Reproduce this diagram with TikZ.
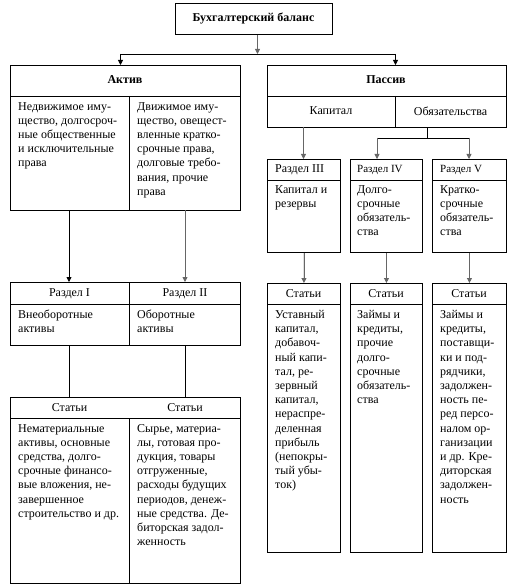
\documentclass[tikz,border=0pt]{standalone}
\usepackage{fontspec}
\setmainfont{Liberation Serif}
\usetikzlibrary{arrows.meta}
\begin{document}
\begin{tikzpicture}[x=1pt,y=-1pt,
 box/.style={draw, line width=0.9pt, inner sep=0pt, anchor=north west},
 txt/.style={anchor=north west, inner sep=0pt, align=left, font=\fontsize{12}{14.2}\selectfont},
 hdr/.style={anchor=center, inner sep=0pt, font=\fontsize{12}{14.2}\selectfont},
 shdr/.style={anchor=west, inner sep=0pt, font=\fontsize{11}{14}\selectfont},
 arr/.style={line width=0.8pt, -{Triangle[length=5pt,width=5pt]}},
 garr/.style={arr, draw=black!60, fill=black},
 ln/.style={line width=0.8pt}]
\path[use as bounding box] (0,0) rectangle (514,588);
% boxes
\node[box, minimum width=157pt, minimum height=31pt] (top) at (175,3) {};
\node[box, minimum width=230pt, minimum height=145pt] (aktiv) at (10,65) {};
\node[box, minimum width=239pt, minimum height=62pt] (passiv) at (267,65) {};
\node[box, minimum width=73pt, minimum height=93pt] (r3) at (267,159) {};
\node[box, minimum width=72pt, minimum height=93pt] (r4) at (350,159) {};
\node[box, minimum width=74pt, minimum height=93pt] (r5) at (432,159) {};
\node[box, minimum width=73pt, minimum height=269pt] (s3) at (267,283) {};
\node[box, minimum width=72pt, minimum height=269pt] (s4) at (350,283) {};
\node[box, minimum width=74pt, minimum height=269pt] (s5) at (432,283) {};
\node[box, minimum width=230pt, minimum height=63pt] (r12) at (10,282) {};
\node[box, minimum width=230pt, minimum height=186pt] (s12) at (10,397) {};
% inner lines
\draw[ln] (10,96) -- (240,96);
\draw[ln] (129,96) -- (129,210);
\draw[ln] (267,96) -- (506,96);
\draw[ln] (395,96) -- (395,127);
\draw[ln] (267,180) -- (340,180);
\draw[ln] (350,180) -- (422,180);
\draw[ln] (432,180) -- (506,180);
\draw[ln] (267,304) -- (340,304);
\draw[ln] (350,304) -- (422,304);
\draw[ln] (432,304) -- (506,304);
\draw[ln] (10,304) -- (240,304);
\draw[ln] (129,282) -- (129,345);
\draw[ln] (10,418) -- (240,418);
\draw[ln] (129,418) -- (129,583);
% texts
\node[hdr, font=\fontsize{12}{14}\selectfont\bfseries] (ttop) at (253.5,19) {Бухгалтерский баланс};
\node[hdr, font=\fontsize{12}{14}\selectfont\bfseries] (takt) at (125,80) {Актив};
\node[hdr, font=\fontsize{12}{14}\selectfont\bfseries] (tpas) at (386,80) {Пассив};
\node[hdr] (tkap) at (331,111) {Капитал};
\node[hdr] (tobz) at (450.5,111) {Обязательства};
\node[txt] (ta1) at (18,102) {Недвижимое иму-\\щество, долгосроч-\\ные общественные\\и исключительные\\права};
\node[txt] (ta2) at (137,102) {Движимое иму-\\щество, овещест-\\вленные кратко-\\срочные права,\\долговые требо-\\вания, прочие\\права};
\node[hdr] (tr1) at (69.5,294) {Раздел I};
\node[hdr] (tr2) at (185,294) {Раздел II};
\node[txt] (tr1b) at (18,310) {Внеоборотные\\активы};
\node[txt] (tr2b) at (137,310) {Оборотные\\активы};
\node[hdr] (ts1) at (69.5,408) {Статьи};
\node[hdr] (ts2) at (185,408) {Статьи};
\node[txt] (ts1b) at (18,424) {Нематериальные\\активы, основные\\средства, долго-\\срочные финансо-\\вые вложения, не-\\завершенное\\строительство и др.};
\node[txt] (ts2b) at (137,424) {Сырье, материа-\\лы, готовая про-\\дукция, товары\\отгруженные,\\расходы будущих\\периодов, денеж-\\ные средства. Де-\\биторская задол-\\женность};
\node[shdr, font=\fontsize{12}{14}\selectfont] (tr3) at (275,170) {Раздел III};
\node[shdr] (tr4) at (357,170) {Раздел IV};
\node[shdr] (tr5) at (440,170) {Раздел V};
\node[txt] (tr3b) at (275,185) {Капитал и\\резервы};
\node[txt] (tr4b) at (357,185) {Долго-\\срочные\\обязатель-\\ства};
\node[txt] (tr5b) at (440,185) {Кратко-\\срочные\\обязатель-\\ства};
\node[hdr] (ts3) at (303.5,294) {Статьи};
\node[hdr] (ts4) at (386,294) {Статьи};
\node[hdr] (ts5) at (469,294) {Статьи};
\node[txt] (ts3b) at (275,310) {Уставный\\капитал,\\добавоч-\\ный капи-\\тал, ре-\\зервный\\капитал,\\нераспре-\\деленная\\прибыль\\(непокры-\\тый убы-\\ток)};
\node[txt] (ts4b) at (357,310) {Займы и\\кредиты,\\прочие\\долго-\\срочные\\обязатель-\\ства};
\node[txt] (ts5b) at (440,310) {Займы и\\кредиты,\\поставщи-\\ки и под-\\рядчики,\\задолжен-\\ность пе-\\ред персо-\\налом ор-\\ганизации\\и др. Кре-\\диторская\\задолжен-\\ность};
% connector coordinates
\coordinate (jtop) at (257.5,54);
\coordinate (jl) at (120.5,54);
\coordinate (jr) at (395.5,54);
\coordinate (jo) at (427,138);
\coordinate (jo4) at (377,138);
\coordinate (jo5) at (469,138);
\coordinate (a1t) at (69,210);
\coordinate (a1b) at (69,282);
\coordinate (a2t) at (185,210);
\coordinate (a2b) at (185,282);
\coordinate (l1t) at (69,345);
\coordinate (l1b) at (69,397);
\coordinate (l2t) at (185,345);
\coordinate (l2b) at (185,397);
\coordinate (kt) at (303.5,127);
% connectors
\draw[garr] (top.south -| jtop) -- (jtop);
\draw[ln] (jl) -- (jr);
\draw[arr] (jl) -- (jl |- aktiv.north);
\draw[arr] (jr) -- (jr |- passiv.north);
\draw[arr] (a1t) -- (a1b);
\draw[garr] (a2t) -- (a2b);
\draw[ln] (l1t) -- (l1b);
\draw[ln] (l2t) -- (l2b);
\draw[garr] (kt) -- (kt |- r3.north);
\draw[ln] (jo |- passiv.south) -- (jo);
\draw[ln] (jo4) -- (jo5);
\draw[garr] (jo4) -- (jo4 |- r4.north);
\draw[garr] (jo5) -- (jo5 |- r5.north);
\draw[garr] (r3.south) -- (s3.north);
\draw[garr] (r4.south) -- (s4.north);
\draw[garr] (r5.south) -- (s5.north);
\end{tikzpicture}
\end{document}
